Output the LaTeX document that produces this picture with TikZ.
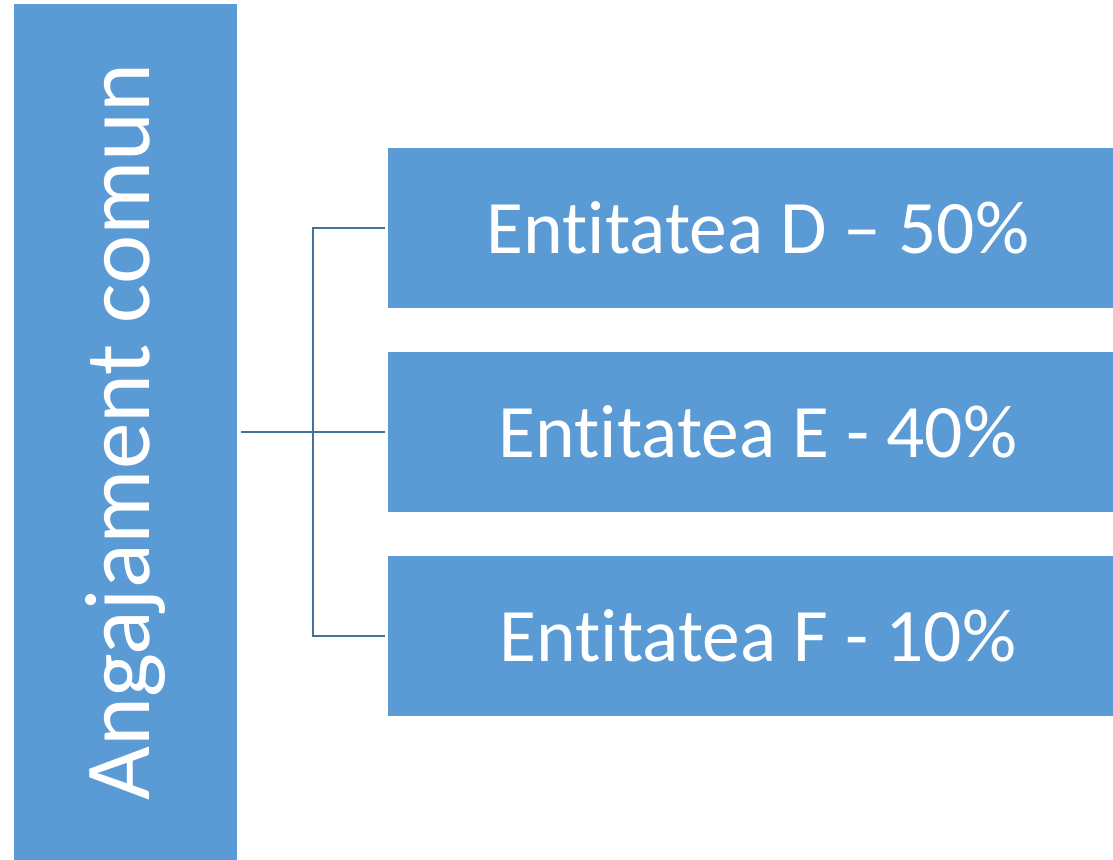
\documentclass[tikz,border=0pt]{standalone}
\usepackage{fontspec}
\setmainfont{Carlito}[RawFeature={-liga;-clig;-calt}]
\definecolor{boxblue}{HTML}{5B9BD5}
\definecolor{linkblue}{HTML}{41719C}
\tikzset{
	big box/.style={rectangle, fill=boxblue, text=white, inner sep=0, minimum width=85.6mm, minimum height=22.3mm, font=\fontsize{26.5}{30}\selectfont},
	share box/.style={rectangle, fill=boxblue, text=white, inner sep=0, minimum width=74mm, minimum height=16mm, font=\fontsize{21.5}{25}\selectfont},
	link/.style={draw=linkblue, line width=0.6pt},
}
\begin{document}
\begin{tikzpicture}[x=0.1mm, y=-0.1mm]
	\useasboundingbox (0,0) rectangle (1113,859);

	\node[big box, rotate=90] (joint) at (125.5,432) {Angajament comun};

	\node[share box] (entD) at (758,228) {Entitatea D – 50\%};
	\node[share box] (entE) at (758,432) {Entitatea E - 40\%};
	\node[share box] (entF) at (758,636) {Entitatea F - 10\%};

	\coordinate (bus) at (313,432);

	\draw[link, shorten <=0.3mm, shorten >=0.2mm] (joint.south) -- (entE.west);
	\draw[link, shorten <=0.2mm, shorten >=0.2mm] (entD.west) -| (bus) |- (entF.west);
\end{tikzpicture}
\end{document}
